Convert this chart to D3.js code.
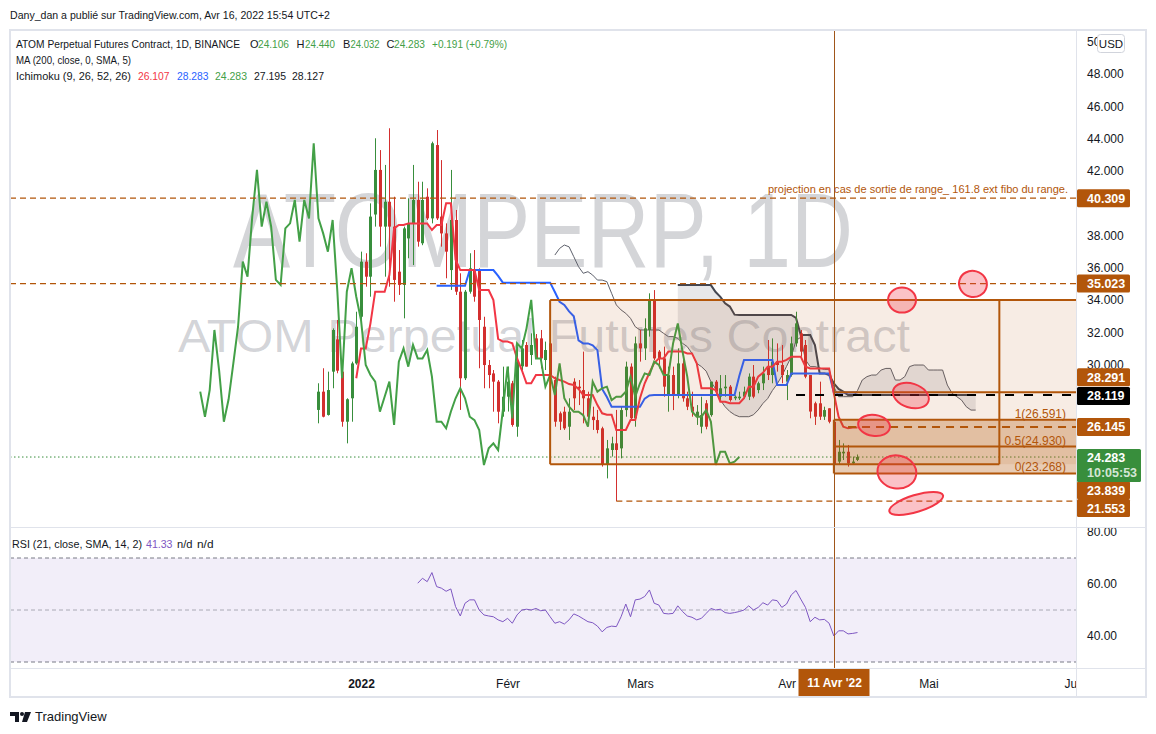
<!DOCTYPE html>
<html>
<head>
<meta charset="utf-8">
<script src="https://cdn.jsdelivr.net/npm/d3@7"></script>
<style>
  body { margin: 0; background: #fff; }
  svg text { font-family: "Liberation Sans", Arial, sans-serif; }
</style>
</head>
<body>
<svg id="chart" width="1156" height="734"></svg>
<script>
// ---- data (ATOMPERP daily, 23 Dec 2021 -> 16 Apr 2022) ----
const firstCandle = "2021-12-23";
const open = [
  27.20, 28.33, 26.89, 29.57, 31.57, 29.57, 26.47, 27.92, 30.08, 32.97,
  36.38, 35.45, 39.30, 42.06, 38.55, 40.09, 38.55, 35.76, 34.94, 37.82,
  38.75, 40.20, 37.52, 40.40, 39.06, 43.60, 39.17, 38.13, 35.86, 38.96,
  34.52, 29.16, 34.52, 35.86, 35.86, 32.35, 29.98, 29.46, 28.95, 27.09,
  28.02, 28.85, 26.16, 29.90, 31.22, 30.60, 31.63, 31.63, 30.29, 31.32,
  29.05, 26.99, 27.09, 26.16, 28.95, 28.64, 28.43, 27.92, 26.78, 26.57,
  26.06, 23.79, 24.72, 25.13, 24.82, 27.19, 29.88, 26.68, 31.32, 31.01,
  32.15, 34.01, 30.81, 30.39, 28.12, 29.36, 28.12, 30.08, 27.92, 27.40,
  26.78, 26.16, 27.61, 26.88, 28.95, 28.02, 28.54, 28.64, 27.92, 27.92,
  28.02, 28.02, 29.26, 28.43, 28.85, 29.88, 29.36, 30.19, 29.98, 28.95,
  29.36, 31.32, 31.94, 31.22, 29.36, 27.61, 27.61, 26.78, 27.30, 26.47,
  24.00, 24.51, 24.61, 23.89, 24.106
];
const high = [
  28.85, 29.78, 29.57, 32.25, 32.77, 29.60, 27.92, 30.19, 33.28, 37.00,
  36.90, 39.99, 44.02, 43.29, 42.37, 44.64, 40.40, 37.10, 38.55, 40.30,
  42.37, 41.33, 41.33, 40.92, 43.81, 44.53, 42.67, 38.75, 42.06, 39.58,
  35.66, 34.63, 36.90, 37.10, 35.97, 32.97, 30.29, 29.67, 29.05, 29.88,
  29.88, 29.00, 31.12, 31.53, 31.40, 31.94, 31.90, 32.15, 31.43, 31.50,
  29.26, 27.10, 27.40, 27.92, 29.16, 29.05, 30.81, 28.33, 27.40, 27.20,
  26.16, 25.34, 25.54, 27.20, 27.40, 30.19, 30.08, 31.74, 32.15, 32.87,
  34.42, 34.62, 30.91, 31.12, 29.88, 29.88, 31.01, 30.29, 28.33, 28.33,
  27.50, 28.02, 27.81, 28.95, 29.05, 29.36, 29.36, 28.74, 28.10, 28.33,
  28.64, 29.46, 29.98, 28.95, 29.88, 31.53, 31.63, 31.32, 31.22, 29.67,
  31.74, 33.28, 32.15, 31.53, 29.36, 27.71, 28.95, 27.40, 27.30, 26.47,
  25.34, 25.13, 25.03, 24.31, 24.440
];
const low = [
  26.37, 26.74, 26.85, 28.54, 29.47, 26.16, 25.13, 26.47, 30.00, 32.50,
  34.83, 34.21, 38.55, 37.31, 35.45, 34.83, 33.90, 34.32, 32.87, 36.59,
  36.17, 37.31, 37.40, 38.96, 38.75, 38.96, 37.31, 35.35, 34.63, 34.32,
  27.20, 29.05, 34.40, 33.90, 29.78, 28.54, 28.54, 27.09, 26.37, 26.78,
  27.10, 26.16, 25.54, 29.67, 29.88, 29.98, 30.40, 29.77, 29.67, 29.26,
  26.16, 25.96, 25.96, 25.34, 27.19, 27.50, 26.37, 26.37, 25.96, 25.75,
  23.69, 22.96, 24.31, 21.55, 24.20, 26.78, 26.57, 26.16, 30.19, 30.29,
  31.74, 30.29, 29.77, 28.02, 27.09, 27.19, 27.92, 27.71, 27.19, 26.78,
  26.27, 25.75, 26.00, 26.78, 28.23, 27.81, 28.02, 27.71, 27.80, 27.81,
  27.92, 27.81, 27.92, 28.23, 28.43, 29.05, 28.85, 29.57, 28.85, 27.81,
  29.26, 31.12, 30.50, 29.16, 26.68, 26.27, 26.58, 26.58, 26.37, 23.69,
  23.79, 24.10, 23.69, 23.79, 24.032
];
const close = [
  28.33, 26.78, 28.43, 32.15, 29.63, 26.47, 27.86, 30.08, 32.35, 36.38,
  35.45, 39.17, 42.06, 38.55, 40.09, 38.55, 35.25, 34.94, 38.44, 38.75,
  40.20, 37.62, 40.20, 39.06, 43.71, 39.06, 38.13, 37.00, 38.96, 34.52,
  29.16, 34.52, 35.97, 34.21, 32.77, 29.98, 29.36, 28.95, 27.09, 28.02,
  28.95, 26.27, 30.19, 31.01, 29.88, 31.22, 30.39, 30.39, 30.91, 29.26,
  26.47, 26.47, 26.06, 27.09, 27.92, 28.54, 27.92, 26.78, 26.57, 25.96,
  23.79, 24.82, 25.13, 24.72, 27.19, 29.88, 26.68, 31.32, 31.01, 32.25,
  34.01, 30.39, 30.39, 28.64, 29.36, 28.12, 30.08, 27.92, 27.40, 27.09,
  27.09, 26.88, 26.16, 28.95, 28.33, 28.54, 28.64, 27.81, 28.02, 28.02,
  28.33, 29.26, 28.02, 28.85, 29.46, 29.36, 30.19, 29.98, 29.36, 29.36,
  31.32, 32.56, 30.81, 29.26, 27.10, 26.78, 26.78, 27.19, 26.47, 23.79,
  24.61, 24.61, 23.89, 24.00, 24.283
];

// Ichimoku lines as plotted (candle number where each series begins)
const tenkanFrom = 9;
const tenkan = [
  29.16, 31.01, 31.01, 32.56, 34.52, 34.52, 34.52, 35.55, 38.44, 38.65,
  38.65, 38.75, 38.75, 38.75, 38.75, 38.75, 38.34, 38.65, 38.65, 39.99,
  39.99, 36.50, 35.86, 35.86, 35.86, 35.86, 34.63, 34.63, 34.62, 34.00,
  31.60, 31.43, 31.43, 31.32, 30.40, 29.67, 28.85, 28.85, 29.36, 29.36,
  29.36, 29.36, 29.16, 29.05, 28.95, 28.80, 28.74, 28.50, 28.12, 28.12,
  28.12, 27.50, 26.99, 26.90, 26.90, 25.96, 25.96, 25.96, 26.57, 26.57,
  27.92, 28.85, 29.50, 30.10, 30.39, 30.39, 30.81, 30.81, 30.81, 30.81,
  30.70, 30.70, 30.08, 28.54, 28.54, 28.54, 28.43, 27.71, 27.71, 27.61,
  27.61, 27.61, 27.92, 28.64, 28.64, 29.26, 29.50, 29.88, 29.88, 30.19,
  30.19, 30.30, 30.50, 30.50, 30.50, 29.88, 29.77, 29.77, 29.77, 29.77,
  29.77, 28.23, 26.78, 26.16, 26.06, 26.107, 26.107
];
const kijunFrom = 26;
const kijun = [
  34.89, 34.89, 34.89, 34.89, 34.89, 34.89, 34.89, 35.86, 35.86, 35.86,
  35.86, 35.86, 35.86, 35.50, 35.08, 35.08, 35.08, 35.08, 35.08, 35.08,
  35.08, 35.08, 35.08, 35.08, 35.08, 34.50, 33.90, 33.70, 33.30, 33.00,
  31.50, 31.32, 31.32, 31.20, 30.90, 28.50, 28.00, 27.40, 27.40, 27.40,
  27.40, 27.40, 27.40, 27.40, 27.90, 28.10, 28.12, 28.12, 28.12, 28.12,
  28.12, 28.12, 28.12, 28.12, 28.12, 28.12, 28.12, 28.12, 28.12, 28.12,
  28.12, 28.12, 28.12, 28.12, 29.30, 30.29, 30.29, 30.29, 30.29, 30.29,
  30.29, 30.29, 28.74, 28.74, 28.74, 29.46, 29.46, 29.46, 29.46, 29.46,
  29.46, 29.46, 29.46, 29.46, 28.283, 28.283, 28.283, 28.283, 28.283, 28.283
];
const spanAFrom = 51;
const spanA = [
  36.79, 37.20, 37.41, 37.30, 36.69, 36.07, 35.66, 35.76, 35.55, 35.24,
  35.24, 35.14, 34.42, 33.70, 33.39, 33.18, 32.87, 32.35, 32.15, 32.15,
  32.15, 32.15, 32.15, 31.94, 31.74, 31.74, 31.63, 31.32, 31.12, 30.70,
  30.08, 29.88, 29.60, 28.95, 28.50, 27.81, 27.40, 27.10, 26.90, 26.78,
  26.78, 26.78, 26.90, 27.20, 27.60, 27.90, 28.40, 28.80, 29.30, 29.90,
  30.50, 31.50, 31.70, 30.30, 29.88, 29.88, 29.80, 29.70, 29.70, 28.64,
  28.02, 28.02, 28.02, 28.02, 28.40, 29.05, 29.26, 29.36, 29.36, 29.67,
  29.77, 29.77, 29.05, 29.05, 29.26, 29.88, 29.98, 29.98, 29.98, 29.67,
  29.67, 29.67, 29.67, 28.74, 28.23, 28.02, 27.81, 27.40, 27.19, 27.19
];
const spanBFrom = 77;
const spanB = [
  34.93, 34.93, 34.93, 34.93, 34.93, 34.93, 34.93, 34.93, 34.50, 34.20,
  33.80, 33.60, 33.10, 33.08, 33.08, 33.08, 33.08, 33.08, 33.08, 33.08,
  33.08, 33.08, 33.08, 33.08, 33.08, 32.90, 31.84, 31.84, 31.84, 31.22,
  29.46, 29.46, 29.36, 28.85, 28.50, 28.33, 28.12, 28.12, 28.127, 28.12,
  28.12, 28.12, 28.12, 28.12, 28.12, 28.12, 28.12, 28.12, 28.12, 28.12,
  28.12, 28.12, 28.12, 28.12, 28.12, 28.12, 28.12, 28.12, 28.12, 28.12,
  28.12, 28.12, 28.12, 28.12
];
const chikouShift = 25;

const rsiFrom = 22;
const rsi = [
  60.3, 62.2, 60.9, 64.4, 59.0, 58.4, 57.2, 58.1, 51.3, 47.7,
  52.6, 53.9, 53.9, 50.0, 48.1, 47.7, 47.4, 46.2, 45.5, 46.8,
  44.9, 48.1, 50.0, 50.3, 50.0, 50.6, 49.7, 50.0, 47.4, 44.9,
  45.5, 44.6, 46.2, 48.5, 47.7, 46.6, 45.5, 45.1, 43.8, 41.6,
  43.3, 43.8, 43.6, 47.4, 52.3, 47.4, 53.9, 54.2, 55.2, 57.7,
  52.6, 51.9, 48.7, 48.5, 48.7, 51.6, 49.4, 47.7, 47.2, 46.2,
  46.8, 48.7, 50.6, 50.0, 50.3, 49.0, 48.7, 49.0, 49.4, 50.0,
  51.6, 50.0, 51.0, 52.8, 51.9, 53.9, 53.6, 51.0, 52.3, 55.8,
  57.5, 54.2, 51.0, 45.5, 47.2, 46.2, 46.4, 44.9, 40.0, 42.0,
  42.0, 40.8, 41.0, 41.33
];

// axis ticks
const priceTicks = [30, 32, 34, 36, 38, 42, 44, 46, 48, 50];
const rsiTicks = [40, 60, 80];
const rsiBands = [70, 50, 30];
const monthTicks = ["2022-01-01", "2022-02-01", "2022-03-01", "2022-04-01", "2022-05-01", "2022-06-01"];
const monthLabels = ["2022", "Févr", "Mars", "Avr", "Mai", "Juin"];

// drawings on the chart
const hLevels = [   // dashed horizontal levels: price, start date
  { v: 40.309, from: null },
  { v: 35.023, from: null },
  { v: 21.553, from: "2022-02-24" },
  { v: 26.145, from: "2022-04-14" }
];
const rangeBox = { from: "2022-02-10", split: "2022-05-16", top: 34.0, bottom: 23.839 };
const rangeMid = { v: 28.291, from: "2022-04-11" };
const blackLevel = { v: 28.119, from: "2022-04-03" };
const fibFrom = "2022-04-11";
const fibLevels = [ { k: "1", v: 26.591 }, { k: "0.5", v: 24.930 }, { k: "0", v: 23.268 } ];
const markDate = "2022-04-11";
const ellipses = [
  { d: "2022-04-25T10:00Z", v: 34.00, rx: 14, ry: 12.5, rot: 0 },
  { d: "2022-05-10T10:00Z", v: 35.00, rx: 14, ry: 13, rot: 15 },
  { d: "2022-04-27T07:00Z", v: 28.09, rx: 18.5, ry: 12, rot: 18 },
  { d: "2022-04-19T12:00Z", v: 26.24, rx: 16, ry: 10.5, rot: 8 },
  { d: "2022-04-24T08:00Z", v: 23.36, rx: 19.5, ry: 16.5, rot: 10 },
  { d: "2022-04-28T10:00Z", v: 21.41, rx: 28, ry: 8.5, rot: -17 }
];
const lastPrice = 24.283;
const lastRsi = 41.33;

// ---- colours ----
const BROWN = "#b2560a";
const UP = "#388e3c", DOWN = "#d32f2f";
const TEXT = "#131722";

// ---- layout ----
const L = 10, R = 1076, mainTop = 30, mainBot = 527, rsiTop = 528, rsiBot = 668, axisBot = 697;

const svg = d3.select("#chart");
const parse = s => new Date(s.length > 10 ? s : s + "T00:00Z");

const x = d3.scaleUtc().domain([parse("2022-01-01"), parse("2022-06-01")]).range([361, 1075]);
const y = d3.scaleLinear().domain([30, 48]).range([364.7, 74]);
const yR = d3.scaleLinear().domain([40, 80]).range([636, 532]);

const day0 = parse(firstCandle);
const dateAt = n => d3.utcDay.offset(day0, n - 1);   // n = candle number (1-based)

const candles = open.map((o, i) => ({ d: dateAt(i + 1), o, h: high[i], l: low[i], c: close[i] }));
const series = (arr, from) => arr.map((v, i) => ({ d: dateAt(from + i), v }));

const defs = svg.append("defs");
defs.append("clipPath").attr("id", "clipMain").append("rect")
  .attr("x", L).attr("y", mainTop).attr("width", R - L).attr("height", mainBot - mainTop);
defs.append("clipPath").attr("id", "clipRsi").append("rect")
  .attr("x", L).attr("y", rsiTop).attr("width", R - L).attr("height", rsiBot - rsiTop);
defs.append("clipPath").attr("id", "clipTime").append("rect")
  .attr("x", L).attr("y", rsiBot).attr("width", R - L).attr("height", axisBot - rsiBot);
defs.append("clipPath").attr("id", "clipRsiAxis").append("rect")
  .attr("x", R).attr("y", rsiTop).attr("width", 70).attr("height", rsiBot - rsiTop);
defs.append("clipPath").attr("id", "clipPriceAxis").append("rect")
  .attr("x", R).attr("y", mainTop).attr("width", 70).attr("height", mainBot - mainTop);

svg.append("rect").attr("width", 1156).attr("height", 734).attr("fill", "#fff");

// header
svg.append("text").attr("x", 10).attr("y", 19).attr("font-size", 11.5).attr("fill", TEXT)
  .attr("textLength", 320).attr("lengthAdjust", "spacingAndGlyphs")
  .text("Dany_dan a publié sur TradingView.com, Avr 16, 2022 15:54 UTC+2");

// ---------- main pane ----------
const main = svg.append("g").attr("clip-path", "url(#clipMain)");

// watermark
main.append("text").attr("x", 543).attr("y", 267).attr("text-anchor", "middle")
  .attr("font-size", 106).attr("fill", "rgba(120,123,134,0.32)")
  .attr("textLength", 620).attr("lengthAdjust", "spacingAndGlyphs").text("ATOMPERP, 1D");
main.append("text").attr("x", 544).attr("y", 352).attr("text-anchor", "middle")
  .attr("font-size", 46).attr("fill", "rgba(120,123,134,0.32)")
  .attr("textLength", 732).attr("lengthAdjust", "spacingAndGlyphs").text("ATOM Perpetual Futures Contract");

// ichimoku cloud
const A = series(spanA, spanAFrom), B = series(spanB, spanBFrom);
const cloud = B.map(b => ({ d: b.d, a: A.find(p => +p.d === +b.d).v, b: b.v }));
main.append("path").datum(cloud)
  .attr("d", d3.area().x(d => x(d.d)).y0(d => y(d.a)).y1(d => y(d.b)))
  .attr("fill", "rgba(120,123,134,0.18)");
const line = d3.line().x(d => x(d.d)).y(d => y(d.v));
main.append("path").datum(A).attr("d", line).attr("fill", "none")
  .attr("stroke", "#5d606b").attr("stroke-width", 1);
main.append("path").datum(B).attr("d", line).attr("fill", "none")
  .attr("stroke", "#434651").attr("stroke-width", 2);

// candles
const cx = d => Math.round(x(d.d)) + 0.5;
main.append("g").selectAll("line").data(candles).join("line")
  .attr("x1", cx).attr("x2", cx)
  .attr("y1", d => y(Math.max(d.h, d.o, d.c))).attr("y2", d => y(Math.min(d.l, d.o, d.c)))
  .attr("stroke", d => d.c >= d.o ? UP : DOWN).attr("stroke-width", 1);
main.append("g").selectAll("rect").data(candles).join("rect")
  .attr("x", d => cx(d) - 1.5).attr("width", 3)
  .attr("y", d => y(Math.max(d.o, d.c)))
  .attr("height", d => Math.max(1, Math.abs(y(d.o) - y(d.c))))
  .attr("fill", d => d.c >= d.o ? UP : DOWN);

// tenkan / kijun / chikou
main.append("path").datum(series(kijun, kijunFrom)).attr("d", line).attr("fill", "none")
  .attr("stroke", "#2962ff").attr("stroke-width", 2);
main.append("path").datum(series(tenkan, tenkanFrom)).attr("d", line).attr("fill", "none")
  .attr("stroke", "#f23645").attr("stroke-width", 2);
main.append("path").datum(candles.map(c => ({ d: d3.utcDay.offset(c.d, -chikouShift), v: c.c })))
  .attr("d", line).attr("fill", "none").attr("stroke", "#43a047").attr("stroke-width", 2);

// last price dotted line
main.append("line").attr("x1", L).attr("x2", R).attr("y1", y(lastPrice)).attr("y2", y(lastPrice))
  .attr("stroke", UP).attr("stroke-dasharray", "1.5,2.5");

// range box
const bx0 = x(parse(rangeBox.from)), bx1 = x(parse(rangeBox.split));
main.append("rect").attr("x", bx0).attr("y", y(rangeBox.top)).attr("width", R - bx0)
  .attr("height", y(rangeBox.bottom) - y(rangeBox.top)).attr("fill", "rgba(178,86,10,0.11)");
// fib retracement fill
const fx0 = x(parse(fibFrom));
main.append("rect").attr("x", fx0).attr("y", y(fibLevels[0].v)).attr("width", R - fx0)
  .attr("height", y(fibLevels[2].v) - y(fibLevels[0].v)).attr("fill", "rgba(178,86,10,0.3)");

const brown = (x1, x2, y1, y2, dash, w) => main.append("line")
  .attr("x1", x1).attr("x2", x2).attr("y1", y1).attr("y2", y2)
  .attr("stroke", BROWN).attr("stroke-width", w || 2).attr("stroke-dasharray", dash || null);

brown(bx0, R, y(rangeBox.top), y(rangeBox.top));
brown(bx0, bx1, y(rangeBox.bottom), y(rangeBox.bottom));
brown(bx0, bx0, y(rangeBox.top), y(rangeBox.bottom));
brown(bx1, bx1, y(rangeBox.top), y(rangeBox.bottom));
brown(x(parse(rangeMid.from)), R, y(rangeMid.v), y(rangeMid.v));

fibLevels.forEach(f => brown(fx0, R, y(f.v), y(f.v)));
brown(fx0, fx0, y(fibLevels[0].v), y(fibLevels[2].v));

hLevels.forEach(h => {
  const x1 = h.from ? x(parse(h.from)) : L;
  if (h.v === 26.145) brown(x1, R, y(h.v), y(h.v), "8,6", 2);
  else brown(x1, R, y(h.v), y(h.v), "6,4", 1.2);
});

main.append("line").attr("x1", x(parse(blackLevel.from))).attr("x2", R)
  .attr("y1", y(blackLevel.v)).attr("y2", y(blackLevel.v))
  .attr("stroke", "#000").attr("stroke-width", 2).attr("stroke-dasharray", "9,10");

// ellipses
main.append("g").selectAll("ellipse").data(ellipses).join("ellipse")
  .attr("transform", d => `translate(${x(parse(d.d))},${y(d.v)}) rotate(${d.rot})`)
  .attr("rx", d => d.rx).attr("ry", d => d.ry)
  .attr("fill", "rgba(242,54,69,0.3)").attr("stroke", "#f23645").attr("stroke-width", 2);

// texts on drawings
fibLevels.forEach(f => main.append("text").attr("x", 1066).attr("y", y(f.v) - 2)
  .attr("text-anchor", "end").attr("font-size", 12).attr("fill", BROWN)
  .text(`${f.k}(${f.v.toFixed(3)})`));
main.append("text").attr("x", 768).attr("y", 193)
  .attr("font-size", 10.5).attr("fill", BROWN)
  .attr("textLength", 300).attr("lengthAdjust", "spacingAndGlyphs")
  .text("projection en cas de sortie de range_ 161.8 ext fibo du range.");

// ---------- RSI pane ----------
const rp = svg.append("g").attr("clip-path", "url(#clipRsi)");
rp.append("rect").attr("x", L).attr("width", R - L).attr("y", yR(70)).attr("height", yR(30) - yR(70))
  .attr("fill", "rgba(126,87,194,0.1)");
rp.selectAll("line.band").data(rsiBands).join("line")
  .attr("x1", L).attr("x2", R).attr("y1", d => yR(d)).attr("y2", d => yR(d))
  .attr("stroke", d => d === 50 ? "rgba(120,123,134,0.6)" : "#787b86")
  .attr("stroke-dasharray", "4,3");
rp.append("path").datum(series(rsi, rsiFrom))
  .attr("d", d3.line().x(d => x(d.d)).y(d => yR(d.v)))
  .attr("fill", "none").attr("stroke", "#7e57c2").attr("stroke-width", 1);

// vertical marker line at 11 Apr
const mx = Math.round(x(parse(markDate))) + 0.5;
svg.append("line").attr("x1", mx).attr("x2", mx).attr("y1", mainTop).attr("y2", rsiBot)
  .attr("stroke", "#a0561a").attr("stroke-width", 1);

// frame and separators
svg.append("rect").attr("x", 10).attr("y", 30).attr("width", 1136).attr("height", 667)
  .attr("fill", "none").attr("stroke", "#e0e3eb").attr("stroke-width", 2);
[mainBot, rsiBot].forEach(v => svg.append("line").attr("x1", L).attr("x2", 1146)
  .attr("y1", v + 0.5).attr("y2", v + 0.5).attr("stroke", "#e0e3eb"));
svg.append("line").attr("x1", R + 0.5).attr("x2", R + 0.5).attr("y1", 30).attr("y2", 697)
  .attr("stroke", "#e0e3eb");

// price axis
const pAxis = svg.append("g").attr("clip-path", "url(#clipPriceAxis)").append("g")
  .attr("transform", `translate(${R},0)`)
  .call(d3.axisRight(y).tickValues(priceTicks).tickSize(0).tickPadding(11).tickFormat(d3.format(".3f")));
pAxis.select(".domain").remove();
pAxis.selectAll("text").attr("font-size", 12).attr("fill", TEXT).attr("font-family", null);

// RSI axis
const rAxis = svg.append("g").attr("clip-path", "url(#clipRsiAxis)").append("g")
  .attr("transform", `translate(${R},0)`)
  .call(d3.axisRight(yR).tickValues(rsiTicks).tickSize(0).tickPadding(11).tickFormat(d3.format(".2f")));
rAxis.select(".domain").remove();
rAxis.selectAll("text").attr("font-size", 12).attr("fill", TEXT).attr("font-family", null);

// USD button
svg.append("rect").attr("x", 1097.5).attr("y", 34.5).attr("width", 27).attr("height", 18).attr("rx", 3)
  .attr("fill", "#fff").attr("stroke", "#d1d4dc");
svg.append("text").attr("x", 1111).attr("y", 48).attr("text-anchor", "middle")
  .attr("font-size", 11.5).attr("fill", TEXT).text("USD");

// price labels
const tag = (v, color, dy) => {
  const cy = y(v) + (dy || 0);
  svg.append("rect").attr("x", R + 1).attr("y", cy - 9).attr("width", 53).attr("height", 18)
    .attr("rx", 1.5).attr("fill", color);
  svg.append("text").attr("x", 1087).attr("y", cy + 4.5).attr("font-size", 12.5)
    .attr("font-weight", 600).attr("fill", "#fff").text(v.toFixed(3));
};
tag(40.309, BROWN); tag(35.023, BROWN); tag(28.291, BROWN, -15); tag(28.119, "#000", 0.8);
tag(26.145, BROWN); tag(23.839, BROWN, 26); tag(21.553, BROWN, 7);
const ly = y(lastPrice);
svg.append("rect").attr("x", R + 1).attr("y", ly - 8).attr("width", 64).attr("height", 33)
  .attr("rx", 1.5).attr("fill", UP);
svg.append("text").attr("x", 1087).attr("y", ly + 5).attr("font-size", 12.5).attr("font-weight", 600)
  .attr("fill", "#fff").text(lastPrice.toFixed(3));
svg.append("text").attr("x", 1087).attr("y", ly + 20).attr("font-size", 12.5).attr("font-weight", 600)
  .attr("fill", "rgba(255,255,255,0.8)").text("10:05:53");

// time axis
const tAxis = svg.append("g").attr("clip-path", "url(#clipTime)").append("g")
  .attr("transform", `translate(0,${rsiBot})`)
  .call(d3.axisBottom(x).tickValues(monthTicks.map(parse)).tickSize(0).tickPadding(11)
    .tickFormat((d, i) => monthLabels[i]));
tAxis.select(".domain").remove();
tAxis.selectAll("text").attr("font-size", 12).attr("fill", TEXT).attr("font-family", null)
  .attr("font-weight", (d, i) => i === 0 ? "bold" : null);

svg.append("rect").attr("x", mx - 36).attr("y", 669).attr("width", 71).attr("height", 27)
  .attr("fill", BROWN);
svg.append("text").attr("x", mx).attr("y", 687).attr("text-anchor", "middle")
  .attr("font-size", 12).attr("font-weight", "bold").attr("fill", "#fff").text("11 Avr '22");

// legends: [text, x, colour, width]
const leg = (parts, yy) => parts.forEach(([t, xx, col, w]) => {
  const el = svg.append("text").attr("x", xx).attr("y", yy).attr("font-size", 11)
    .attr("fill", col || TEXT).text(t);
  if (w) el.attr("textLength", w).attr("lengthAdjust", "spacingAndGlyphs");
});
const G = "#43a047";
leg([["ATOM Perpetual Futures Contract, 1D, BINANCE", 16, TEXT, 224],
  ["O", 250], ["24.106", 258, G, 31], ["H", 296.5], ["24.440", 305, G, 30],
  ["B", 343], ["24.032", 350.5, G, 29], ["C", 386.5], ["24.283", 394, G, 31],
  ["+0.191 (+0.79%)", 432, G, 75]], 48);
leg([["MA (200, close, 0, SMA, 5)", 16, TEXT, 115]], 64);
leg([["Ichimoku (9, 26, 52, 26)", 16, TEXT, 115], ["26.107", 138, "#f23645", 31.5],
  ["28.283", 177, "#2962ff", 31.5], ["24.283", 215, G, 32], ["27.195", 254, TEXT, 32],
  ["28.127", 292, TEXT, 32]], 80);
leg([["RSI (21, close, SMA, 14, 2)", 12, TEXT, 130], [lastRsi.toFixed(2), 146, "#7e57c2", 26.5],
  ["n/d", 177, TEXT, 15.5], ["n/d", 197, TEXT, 16.5]], 548);

// TradingView footer
const logo = svg.append("g").attr("fill", TEXT);
logo.append("rect").attr("x", 10).attr("y", 712).attr("width", 9).attr("height", 4);
logo.append("rect").attr("x", 15).attr("y", 712).attr("width", 4).attr("height", 10);
logo.append("circle").attr("cx", 22).attr("cy", 714).attr("r", 2);
logo.append("path").attr("d", "M25,712 L31,712 L27,722 L22,722 Z");
svg.append("text").attr("x", 35).attr("y", 721).attr("font-size", 13).attr("fill", TEXT).text("TradingView");
</script>
</body>
</html>
